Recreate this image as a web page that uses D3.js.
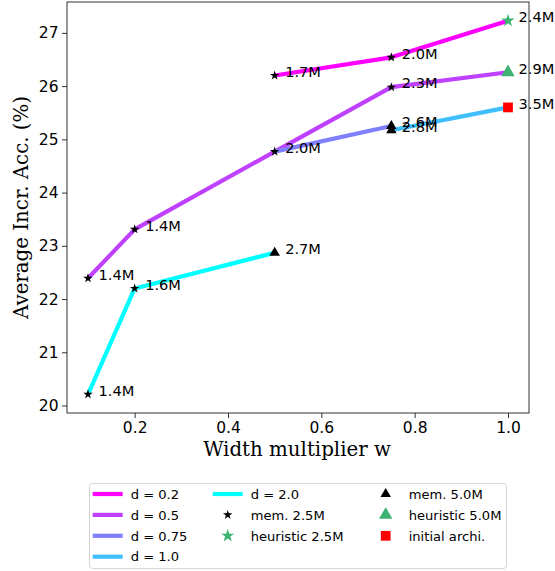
<!DOCTYPE html>
<html>
<head>
<meta charset="utf-8">
<script src="https://cdn.jsdelivr.net/npm/d3@7"></script>
<style>
  body { margin: 0; background: #fff; }
  text { font-family: "DejaVu Sans", sans-serif; fill: #000; }
</style>
</head>
<body>
<div id="chart"></div>
<script>
// series: depth multiplier d
const dLabels = ["d = 0.2", "d = 0.5", "d = 0.75", "d = 1.0", "d = 2.0"];
const wValues = [
    [0.5, 0.75, 1.0],
    [0.1, 0.2, 0.5, 0.75, 1.0],
    [0.5, 0.75],
    [0.75, 1.0],
    [0.1, 0.2, 0.5]
];
const accValues = [
    [26.2, 26.54, 27.23],
    [22.39, 23.31, 24.77, 25.98, 26.26],
    [24.77, 25.25],
    [25.17, 25.6],
    [20.21, 22.2, 22.87]
];
const paramLabels = [
    ["1.7M", "2.0M", "2.4M"],
    ["1.4M", "1.4M", "2.0M", "2.3M", "2.9M"],
    ["", "2.6M"],
    ["2.8M", "3.5M"],
    ["1.4M", "1.6M", "2.7M"]
];
const pointKinds = [
    ["mem25", "mem25", "heur25"],
    ["mem25", "mem25", "mem25", "mem25", "heur50"],
    ["", "mem50"],
    ["mem50", "init"],
    ["mem25", "mem25", "mem50"]
];
const markerKinds = ["mem25", "heur25", "mem50", "heur50", "init"];
const markerLabels = ["mem. 2.5M", "heuristic 2.5M", "mem. 5.0M", "heuristic 5.0M", "initial archi."];
const xTicks = [0.2, 0.4, 0.6, 0.8, 1.0];
const yTicks = [20, 21, 22, 23, 24, 25, 26, 27];

const lineColors = ["#ff00ff", "#bf40ff", "#8080ff", "#40bfff", "#00ffff"];
const markerStyle = {
    mem25:  { type: d3.symbolStar, size: 28, fill: "#000" },
    heur25: { type: d3.symbolStar, size: 54, fill: "#3cb371" },
    mem50:  { type: d3.symbolTriangle, size: 48, fill: "#000" },
    heur50: { type: d3.symbolTriangle, size: 78, fill: "#3cb371" },
    init:   { type: d3.symbolSquare, size: 95, fill: "#ff0000" }
};

const W = 555, H = 571;
const margin = { top: 2, left: 67, right: 26, bottom: 158 };
const width = W - margin.left - margin.right;
const height = H - margin.top - margin.bottom;

const svg = d3.select("#chart").append("svg")
    .attr("width", W)
    .attr("height", H);

const g = svg.append("g")
    .attr("transform", "translate(" + margin.left + "," + margin.top + ")");

const x = d3.scaleLinear().domain([0.055, 1.045]).range([0, width]);
const y = d3.scaleLinear().domain([19.86, 27.58]).range([height, 0]);

// lines
const line = d3.line().x(d => x(d[0])).y(d => y(d[1]));
dLabels.forEach((lab, i) => {
    const pts = wValues[i].map((w, j) => [w, accValues[i][j]]);
    g.append("path")
        .attr("d", line(pts))
        .attr("fill", "none")
        .attr("stroke", lineColors[i])
        .attr("stroke-width", 4.2)
        .attr("stroke-linejoin", "round")
        .attr("stroke-linecap", "butt");
});

// markers and parameter labels
dLabels.forEach((lab, i) => {
    wValues[i].forEach((w, j) => {
        const k = pointKinds[i][j];
        if (k) {
            const st = markerStyle[k];
            g.append("path")
                .attr("d", d3.symbol().type(st.type).size(st.size)())
                .attr("transform", "translate(" + x(w) + "," + y(accValues[i][j]) + ")")
                .attr("fill", st.fill);
        }
        if (paramLabels[i][j]) {
            g.append("text")
                .attr("x", x(w) + 10.5)
                .attr("y", y(accValues[i][j]) - 4)
                .attr("dy", "0.36em")
                .style("font-size", "14.6px")
                .text(paramLabels[i][j]);
        }
    });
});

// axes
const xAxis = g.append("g")
    .attr("transform", "translate(0," + height + ")")
    .call(d3.axisBottom(x).tickValues(xTicks).tickFormat(d3.format(".1f")).tickSizeOuter(0).tickSize(5).tickPadding(3.5));
const yAxis = g.append("g")
    .call(d3.axisLeft(y).tickValues(yTicks).tickFormat(d3.format("d")).tickSizeOuter(0).tickSize(5).tickPadding(3.5));
[xAxis, yAxis].forEach(a => {
    a.select(".domain").remove();
    a.selectAll("line").attr("stroke", "#333").attr("stroke-width", 1);
    a.selectAll("text").style("font-size", "15.5px").style("font-family", "DejaVu Sans").attr("fill", "#000");
});

g.append("rect")
    .attr("x", 0).attr("y", 0)
    .attr("width", width).attr("height", height)
    .attr("fill", "none")
    .attr("stroke", "#333")
    .attr("stroke-width", 1);

g.append("text")
    .attr("x", width / 2 - 1)
    .attr("y", height + 43)
    .attr("text-anchor", "middle")
    .style("font-family", "DejaVu Serif")
    .style("font-size", "19.8px")
    .text("Width multiplier w");

g.append("text")
    .attr("transform", "translate(" + (-39) + "," + (height / 2) + ") rotate(-90)")
    .attr("text-anchor", "middle")
    .style("font-family", "DejaVu Serif")
    .style("font-size", "19.8px")
    .text("Average Incr. Acc. (%)");

// legend
const legend = svg.append("g");
legend.append("rect")
    .attr("x", 89.5).attr("y", 483.5)
    .attr("width", 417).attr("height", 85)
    .attr("rx", 3)
    .attr("fill", "#fff")
    .attr("stroke", "#d6d6d6");

const items = dLabels.map((lab, i) => ({ label: lab, color: lineColors[i] }))
    .concat(markerLabels.map((lab, i) => ({ label: lab, kind: markerKinds[i] })));
const colCounts = [4, 3, 3];
const colX = [92.7, 212.7, 370.7];
const rowY0 = 494, rowStep = 20.9;
let idx = 0;
colCounts.forEach((n, c) => {
    for (let r = 0; r < n; r++, idx++) {
        const it = items[idx];
        const cy = rowY0 + r * rowStep;
        if (it.color) {
            legend.append("line")
                .attr("x1", colX[c]).attr("x2", colX[c] + 30)
                .attr("y1", cy).attr("y2", cy)
                .attr("stroke", it.color)
                .attr("stroke-width", 4.2);
        } else {
            const st = markerStyle[it.kind];
            legend.append("path")
                .attr("d", d3.symbol().type(st.type).size(st.size)())
                .attr("transform", "translate(" + (colX[c] + 15) + "," + cy + ")")
                .attr("fill", st.fill);
        }
        legend.append("text")
            .attr("x", colX[c] + 38)
            .attr("y", cy)
            .attr("dy", "0.36em")
            .style("font-size", "13.1px")
            .text(it.label);
    }
});
</script>
</body>
</html>
